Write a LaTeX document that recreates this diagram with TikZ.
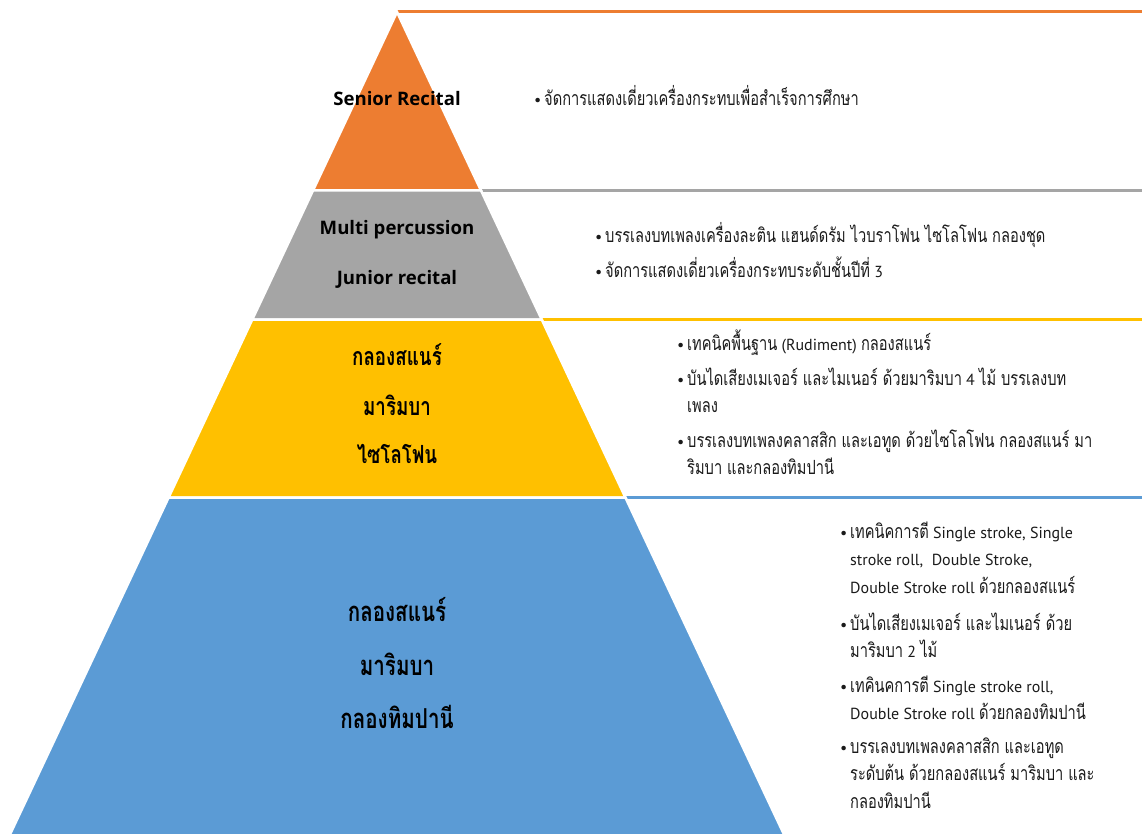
\documentclass[tikz,border=0pt]{standalone}
\usepackage{fontspec}
\setmainfont{PT Sans}
\newfontfamily\laf{PT Sans}
\newfontfamily\lbf{Open Sans}
\newfontfamily\thf[Script=Thai,Scale=1.22,FakeStretch=0.75]{Loma}
\definecolor{orangeC}{HTML}{ED7D31}
\definecolor{grayC}{HTML}{A5A5A5}
\definecolor{yellowC}{HTML}{FFC000}
\definecolor{blueC}{HTML}{5B9BD5}
\definecolor{txtC}{HTML}{1A1A1A}
\setlength{\lineskiplimit}{-100pt}
\newcommand\bul[1]{\makebox[10pt][l]{\textbullet}\parbox[t]{600pt}{\raggedright #1}}
\tikzset{
  band/.style={draw=white, line width=2.5pt, line join=miter},
  topline/.style={draw=#1, line width=3pt},
  plab/.style={font=\lbf\bfseries\fontsize{18.6}{20}\selectfont, anchor=base, inner sep=0pt, text=black},
  tlab/.style={font=\thf\bfseries\fontsize{#1}{20}\selectfont, anchor=base, inner sep=0pt, text=black},
  item/.style={font=\laf\fontsize{16}{27.5}\selectfont, anchor=base west, inner sep=0pt, text=txtC},
}
\begin{document}
\begin{tikzpicture}[x=1pt,y=-1pt]
\useasboundingbox (0,0) rectangle (1142,834);
\clip (0,0) rectangle (1142,834);
% corner coordinates
\coordinate (apex) at (397,12);
\coordinate (g-l) at (313,190.5);
\coordinate (g-r) at (481,190.5);
\coordinate (y-l) at (252.3,319.5);
\coordinate (y-r) at (541.7,319.5);
\coordinate (b-l) at (168.6,497.5);
\coordinate (b-r) at (625.4,497.5);
\coordinate (z-l) at (2.7,850);
\coordinate (z-r) at (791.3,850);
\coordinate (e-o) at (1142,12);
\coordinate (e-g) at (1142,190.5);
\coordinate (e-y) at (1142,319.5);
\coordinate (e-b) at (1142,497.5);
% top lines of the text panels
\draw[topline=orangeC] (apex) -- (e-o);
\draw[topline=grayC] (g-r) -- (e-g);
\draw[topline=yellowC] (y-r) -- (e-y);
\draw[topline=blueC] (b-r) -- (e-b);
% pyramid bands
\fill[band, fill=orangeC] (apex) -- (g-r) -- (g-l) -- cycle;
\fill[band, fill=grayC] (g-l) -- (g-r) -- (y-r) -- (y-l) -- cycle;
\fill[band, fill=yellowC] (y-l) -- (y-r) -- (b-r) -- (b-l) -- cycle;
\fill[band, fill=blueC] (b-l) -- (b-r) -- (z-r) -- (z-l) -- cycle;
% pyramid labels
\node[plab] (l1) at (397,106) {Senior Recital};
\node[plab] (l2) at (397,235) {Multi percussion};
\node[plab] (l3) at (397,284) {Junior recital};
\node[tlab=20.5] (l4) at (397,365) {กลองสแนร์};
\node[tlab=20.5] (l5) at (397,415) {มาริมบา};
\node[tlab=20.5] (l6) at (397,463) {ไซโลโฟน};
\node[tlab=22.5] (l7) at (397,621) {กลองสแนร์};
\node[tlab=22.5] (l8) at (397,675) {มาริมบา};
\node[tlab=22.5] (l9) at (397,728) {กลองทิมปานี};
% bullet texts
\node[item] (o1) at (534,106) {\bul{\thf จัดการแสดงเดี่ยวเครื่องกระทบเพื่อสำเร็จการศึกษา}};
\node[item] (g1) at (595,243) {\bul{\thf บรรเลงบทเพลงเครื่องละติน แฮนด์ดรัม ไวบราโฟน ไซโลโฟน กลองชุด}};
\node[item] (g2) at (595,277) {\bul{{\thf จัดการแสดงเดี่ยวเครื่องกระทบระดับชั้นปีที่} 3}};
\node[item] (y1) at (677,350) {\bul{{\thf เทคนิคพื้นฐาน} (Rudiment) {\thf กลองสแนร์}}};
\node[item] (y2) at (677,385) {\bul{{\thf บันไดเสียงเมเจอร์ และไมเนอร์ ด้วยมาริมบา} 4 {\thf ไม้ บรรเลงบท}\\{\thf เพลง}}};
\node[item] (y3) at (677,447) {\bul{{\thf บรรเลงบทเพลงคลาสสิก และเอทูด ด้วยไซโลโฟน กลองสแนร์ มา}\\{\thf ริมบา และกลองทิมปานี}}};
\node[item] (b1) at (840,538) {\bul{{\thf เทคนิคการตี} Single stroke, Single\\stroke roll,\ \ Double Stroke,\\Double Stroke roll {\thf ด้วยกลองสแนร์}}};
\node[item] (b2) at (840,630) {\bul{{\thf บันไดเสียงเมเจอร์ และไมเนอร์ ด้วย}\\{\thf มาริมบา} 2 {\thf ไม้}}};
\node[item] (b3) at (840,692) {\bul{{\thf เทคินคการตี} Single stroke roll,\\Double Stroke roll {\thf ด้วยกลองทิมปานี}}};
\node[item] (b4) at (840,753) {\bul{{\thf บรรเลงบทเพลงคลาสสิก และเอทูด}\\{\thf ระดับต้น ด้วยกลองสแนร์ มาริมบา และ}\\{\thf กลองทิมปานี}}};
\end{tikzpicture}
\end{document}
